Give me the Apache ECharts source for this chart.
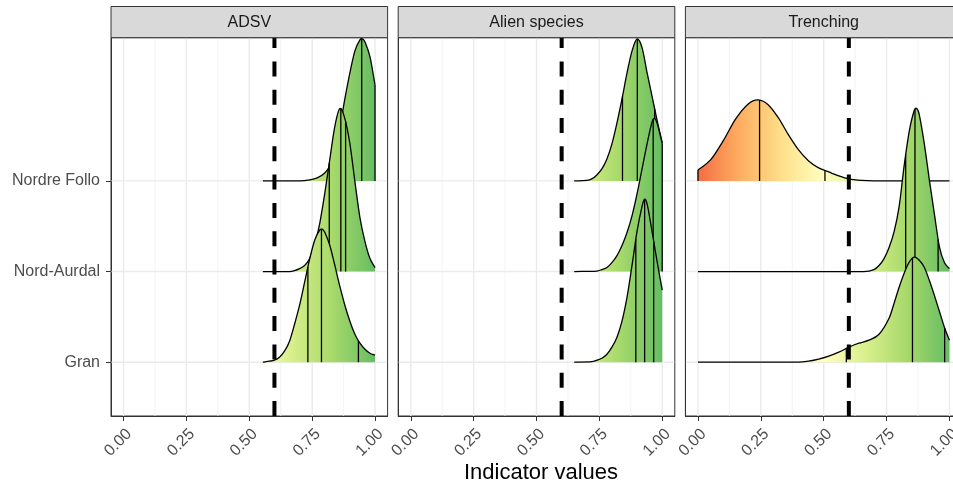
<!DOCTYPE html>
<html><head><meta charset="utf-8">
<script src="https://cdn.jsdelivr.net/npm/echarts@6/dist/echarts.min.js"></script>
<style>html,body{margin:0;padding:0;background:#fff}#chart{width:953px;height:484px}</style>
</head><body><div id="chart"></div>
<script>
// ---------------- DATA ----------------
const panels = ['ADSV', 'Alien species', 'Trenching'];
const categories = ['Gran', 'Nord-Aurdal', 'Nordre Follo']; // y = 1, 2, 3
const xTicks = [0, 0.25, 0.5, 0.75, 1];
const xTickLabels = ['0.00', '0.25', '0.50', '0.75', '1.00'];
const xMinorLines = [0.125, 0.375, 0.625, 0.875];
const threshold = 0.6;
const axisTitle = 'Indicator values';

// density curves: [x, relative density]
const adsvNordreFollo = [[0.554,0],[0.70,0],[0.74,1],[0.77,3],[0.80,8],[0.82,15],[0.84,30],[0.86,53],[0.88,82],[0.90,108],[0.92,130],[0.94,141],[0.95,142],[0.96,139],[0.98,124],[1.00,96]];
const adsvNordreFolloLines = [0.947, 1.0];
const adsvNordAurdal = [[0.554,0],[0.66,0],[0.68,1],[0.70,3],[0.72,6],[0.74,13],[0.76,27],[0.78,48],[0.80,78],[0.82,112],[0.84,145],[0.86,163],[0.88,153],[0.90,128],[0.92,90],[0.94,54],[0.96,30],[0.98,13],[1.00,4]];
const adsvNordAurdalLines = [0.818, 0.864, 0.883];
const adsvGran = [[0.554,0],[0.58,1],[0.60,2],[0.62,5],[0.64,11],[0.66,21],[0.68,38],[0.70,57],[0.72,80],[0.74,103],[0.76,122],[0.78,132],[0.79,133],[0.80,130],[0.82,117],[0.84,97],[0.86,76],[0.88,57],[0.90,41],[0.92,28],[0.94,19],[0.96,13],[0.98,9],[1.00,7]];
const adsvGranLines = [0.733, 0.787, 0.934];

const alienNordreFollo = [[0.65,0],[0.70,0.5],[0.72,2],[0.74,6],[0.76,12],[0.78,22],[0.80,37],[0.82,58],[0.84,82],[0.86,108],[0.88,130],[0.90,142],[0.92,133],[0.94,108],[0.96,84],[0.98,60],[1.00,38]];
const alienNordreFolloLines = [0.842, 0.901, 0.970];
const alienNordAurdal = [[0.65,0],[0.74,0.5],[0.76,2],[0.78,4],[0.80,9],[0.82,16],[0.84,26],[0.86,39],[0.88,56],[0.90,78],[0.92,103],[0.94,128],[0.96,150],[0.97,153],[0.98,148],[1.00,128]];
const alienNordAurdalLines = [0.964, 1.0];
const alienGran = [[0.65,0],[0.72,0.5],[0.74,2],[0.76,4],[0.78,8],[0.80,15],[0.82,25],[0.84,41],[0.86,65],[0.88,97],[0.90,131],[0.92,156],[0.93,163],[0.94,158],[0.96,130],[0.98,100],[1.00,72]];
const alienGranLines = [0.895, 0.930, 0.966];

const trenchNordreFollo = [[0.00,11],[0.05,21],[0.10,40],[0.15,62],[0.20,77],[0.24,81],[0.28,76],[0.32,63],[0.36,46],[0.40,31],[0.44,20],[0.48,13],[0.52,9],[0.56,5],[0.60,2],[0.65,0.5],[0.70,0],[1.00,0]];
const trenchNordreFolloLines = [0.0, 0.245, 0.505];
const trenchNordAurdal = [[0.00,0],[0.66,0],[0.70,2],[0.72,6],[0.74,13],[0.76,24],[0.78,40],[0.80,65],[0.82,106],[0.84,140],[0.86,161],[0.87,163],[0.88,157],[0.90,128],[0.92,92],[0.94,58],[0.96,25],[0.98,9],[1.00,3]];
const trenchNordAurdalLines = [0.826, 0.863, 0.955];
const trenchGran = [[0.00,0],[0.40,0],[0.44,1],[0.48,3],[0.52,6],[0.56,10],[0.60,15],[0.64,19],[0.68,22],[0.72,28],[0.76,44],[0.78,59],[0.80,75],[0.82,89],[0.84,100],[0.86,105],[0.88,102],[0.90,95],[0.92,82],[0.94,67],[0.96,51],[0.98,35],[1.00,22]];
const trenchGranLines = [0.59, 0.853, 0.981];

// ---------------- LAYOUT / STYLE ----------------
const densityScale = 1 / 90.65;          // ridge height units -> y units
const yRange = [0.4065, 4.58];
const xRange = [-0.05, 1.05];
const gridLefts = [111, 398.2, 685.4];
const gridTop = 37.7, gridW = 276.6, gridH = 378.3;
const fontFam = '"Liberation Sans", Arial, Helvetica, sans-serif';
const fillStops = [
  {offset: 0, color: '#F46D43'}, {offset: 0.167, color: '#FDAE61'},
  {offset: 0.333, color: '#FEE08B'}, {offset: 0.5, color: '#FFFFBF'},
  {offset: 0.667, color: '#D9EF8B'}, {offset: 0.833, color: '#A6D96A'},
  {offset: 1, color: '#66BD63'}
];

// drawing order: top ridge first so lower ridges overlap it
const panelRidges = [
  [ {y: 3, pts: adsvNordreFollo, lines: adsvNordreFolloLines},
    {y: 2, pts: adsvNordAurdal, lines: adsvNordAurdalLines},
    {y: 1, pts: adsvGran, lines: adsvGranLines} ],
  [ {y: 3, pts: alienNordreFollo, lines: alienNordreFolloLines},
    {y: 2, pts: alienNordAurdal, lines: alienNordAurdalLines},
    {y: 1, pts: alienGran, lines: alienGranLines} ],
  [ {y: 3, pts: trenchNordreFollo, lines: trenchNordreFolloLines},
    {y: 2, pts: trenchNordAurdal, lines: trenchNordAurdalLines},
    {y: 1, pts: trenchGran, lines: trenchGranLines} ]
];

// smooth cubic segments through the read points (pixel space)
function buildSegs(px, basePx) {
  const n = px.length, m = [];
  for (let i = 0; i < n; i++) {
    const a = px[Math.max(i - 1, 0)], b = px[Math.min(i + 1, n - 1)];
    m[i] = (b[1] - a[1]) / (b[0] - a[0]);
  }
  const segs = [];
  for (let i = 0; i < n - 1; i++) {
    const p = px[i], q = px[i + 1], dx = q[0] - p[0];
    const c1 = [p[0] + dx / 3, Math.min(basePx, p[1] + m[i] * dx / 3)];
    const c2 = [q[0] - dx / 3, Math.min(basePx, q[1] - m[i + 1] * dx / 3)];
    segs.push([p, c1, c2, q]);
  }
  return segs;
}
function segY(segs, x) {
  for (const s of segs) {
    const [p, c1, c2, q] = s;
    if (x >= p[0] - 0.01 && x <= q[0] + 0.01) {
      const t = Math.max(0, Math.min(1, (x - p[0]) / (q[0] - p[0])));
      const u = 1 - t;
      return u*u*u*p[1] + 3*u*u*t*c1[1] + 3*u*t*t*c2[1] + t*t*t*q[1];
    }
  }
  return null;
}

function ridgeRender(pi) {
  return function (params, api) {
    const r = panelRidges[pi][params.dataIndex];
    const basePx = api.coord([0, r.y])[1];
    const px = r.pts.map(p => api.coord([p[0], r.y + p[1] * densityScale]));
    const segs = buildSegs(px, basePx);
    let curve = 'M' + px[0][0] + ' ' + px[0][1];
    segs.forEach(s => {
      curve += ' C' + s[1][0] + ' ' + s[1][1] + ' ' + s[2][0] + ' ' + s[2][1] + ' ' + s[3][0] + ' ' + s[3][1];
    });
    const last = px[px.length - 1];
    const fillPath = 'M' + px[0][0] + ' ' + basePx + ' L' + curve.slice(1) + ' L' + last[0] + ' ' + basePx + ' Z';
    const x0 = api.coord([0, r.y])[0], x1 = api.coord([1, r.y])[0];
    const grad = new echarts.graphic.LinearGradient(x0, 0, x1, 0, fillStops, true);
    const children = [{type: 'path', shape: {pathData: fillPath}, style: {fill: grad, stroke: null}}];
    r.lines.forEach(q => {
      const xp = api.coord([q, r.y])[0];
      const yp = segY(segs, xp);
      if (yp == null) return;
      children.push({type: 'line', shape: {x1: xp, y1: basePx, x2: xp, y2: yp},
        style: {stroke: '#000', lineWidth: 1.3}});
    });
    children.push({type: 'path', shape: {pathData: curve},
      style: {fill: null, stroke: '#000', lineWidth: 1.3, lineJoin: 'round'}});
    return {type: 'group', children: children};
  };
}

function gridRender(params, api) {
  const ch = [];
  const yT = api.coord([0, yRange[1]])[1], yB = api.coord([0, yRange[0]])[1];
  const xL = api.coord([xRange[0], 1])[0], xR = api.coord([xRange[1], 1])[0];
  xMinorLines.forEach(v => {
    const x = api.coord([v, 1])[0];
    ch.push({type: 'line', shape: {x1: x, y1: yT, x2: x, y2: yB}, style: {stroke: '#F0F0F0', lineWidth: 0.8}});
  });
  xTicks.forEach(v => {
    const x = api.coord([v, 1])[0];
    ch.push({type: 'line', shape: {x1: x, y1: yT, x2: x, y2: yB}, style: {stroke: '#EBEBEB', lineWidth: 1.4}});
  });
  [1, 2, 3].forEach(v => {
    const y = api.coord([0, v])[1];
    ch.push({type: 'line', shape: {x1: xL + 0.5, y1: y, x2: xR - 0.5, y2: y}, style: {stroke: '#EBEBEB', lineWidth: 1.4}});
  });
  return {type: 'group', children: ch};
}

function threshRender(params, api) {
  const p0 = api.coord([threshold, yRange[0]]), p1 = api.coord([threshold, yRange[1]]);
  return {type: 'line', shape: {x1: p0[0], y1: p0[1], x2: p1[0], y2: p1[1]},
    style: {stroke: '#000', lineWidth: 4, lineDash: [15, 13.3]}};
}

const grids = [], xAxes = [], yAxes = [], series = [], graphics = [];
panels.forEach((name, i) => {
  grids.push({left: gridLefts[i], top: gridTop, width: gridW, height: gridH, show: true,
    borderColor: '#333333', borderWidth: 1, backgroundColor: '#ffffff', outerBoundsMode: 'none', containLabel: false});
  xAxes.push({gridIndex: i, type: 'value', min: xRange[0], max: xRange[1], position: 'bottom',
    splitLine: {show: false}, axisLine: {show: true, onZero: false, lineStyle: {color: '#333333', width: 1}},
    axisTick: {show: true, customValues: xTicks, length: 5, lineStyle: {color: '#333333', width: 1}},
    axisLabel: {customValues: xTicks, rotate: 45, margin: 10, verticalAlign: 'top', fontSize: 16, color: '#4D4D4D', fontFamily: fontFam,
      formatter: v => xTickLabels[xTicks.indexOf(v)] ?? ''}});
  const yAxis = {gridIndex: i, type: 'value', min: yRange[0], max: yRange[1], position: 'left',
    splitLine: {show: false}, axisLine: {show: true, onZero: false, lineStyle: {color: '#333333', width: 1}}};
  if (i === 0) {
    yAxis.axisTick = {show: true, customValues: [1, 2, 3], length: 5, lineStyle: {color: '#333333', width: 1}};
    yAxis.axisLabel = {show: true, customValues: [1, 2, 3], margin: 11, fontSize: 16, color: '#4D4D4D', fontFamily: fontFam,
      formatter: v => categories[Math.round(v) - 1] || ''};
  } else {
    yAxis.axisTick = {show: false};
    yAxis.axisLabel = {show: false};
  }
  yAxes.push(yAxis);
  series.push({type: 'custom', xAxisIndex: i, yAxisIndex: i, z: 1, silent: true,
    renderItem: gridRender, data: [[0.5, 2]]});
  series.push({type: 'custom', xAxisIndex: i, yAxisIndex: i, z: 2, silent: true,
    renderItem: ridgeRender(i), data: panelRidges[i].map(r => [0.5, r.y])});
  series.push({type: 'custom', xAxisIndex: i, yAxisIndex: i, z: 3, silent: true,
    renderItem: threshRender, data: [[threshold, 2]]});
  graphics.push({type: 'rect', shape: {x: gridLefts[i], y: 6.5, width: gridW, height: gridTop - 6.5},
    style: {fill: '#D9D9D9', stroke: '#333333', lineWidth: 1}, z: 10});
  graphics.push({type: 'text', x: gridLefts[i] + gridW / 2, y: (6.5 + gridTop) / 2 + 0.5,
    style: {text: name, fill: '#1A1A1A', font: '16px ' + fontFam, textAlign: 'center', textVerticalAlign: 'middle'}, z: 11});
});
graphics.push({type: 'text', x: 541, y: 473,
  style: {text: axisTitle, fill: '#000000', font: '22px ' + fontFam, textAlign: 'center', textVerticalAlign: 'middle'}, z: 11});

const chart = echarts.init(document.getElementById('chart'), null, {renderer: 'canvas'});
chart.setOption({
  animation: false,
  backgroundColor: '#ffffff',
  grid: grids, xAxis: xAxes, yAxis: yAxes, series: series, graphic: graphics
});
</script>
</body></html>
